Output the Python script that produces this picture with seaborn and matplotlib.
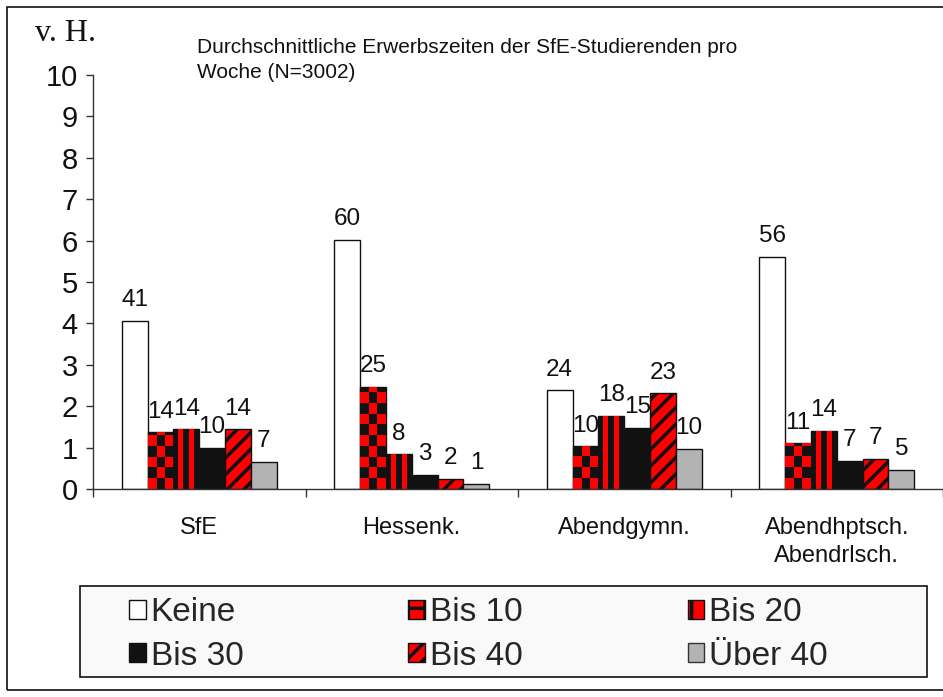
import numpy as np
import pandas as pd
import seaborn as sns
import matplotlib.pyplot as plt
from matplotlib.colors import ListedColormap
from matplotlib.patches import Patch, Rectangle

sns.set_style("ticks")
plt.rcParams.update({
    "font.family": ["Liberation Sans", "DejaVu Sans"],
    "hatch.linewidth": 2.5})

RED = "#ff0000"
BLACK = "#111111"

schulen = ["SfE", "Hessenk.", "Abendgymn.", "Abendhptsch.\nAbendrlsch."]
stunden = ["Keine", "Bis 10", "Bis 20", "Bis 30", "Bis 40", "Über 40"]

# v. H. je Schulart, eine Liste pro Erwerbszeit-Gruppe
keine = [40.6, 60.2, 23.8, 56.0]
bis10 = [13.7, 24.6, 10.3, 11.0]
bis20 = [14.4, 8.4, 17.6, 14.0]
bis30 = [10.0, 3.4, 14.7, 6.8]
bis40 = [14.4, 2.4, 23.1, 7.2]
ueber40 = [6.6, 1.2, 9.7, 4.6]

df = pd.DataFrame({
    "Schule": schulen * 6,
    "Stunden": np.repeat(stunden, 4),
    "Prozent": np.concatenate([keine, bis10, bis20, bis30, bis40, ueber40]),
})
# y-axis is scaled 0..10 (tenths of percent)
df["Anteil"] = df["Prozent"] / 10

palette = {"Keine": "white", "Bis 10": RED, "Bis 20": RED,
           "Bis 30": BLACK, "Bis 40": RED, "Über 40": "#b3b3b3"}

fig = plt.figure(figsize=(9.43, 6.97), dpi=100)
ax = fig.add_axes([93 / 943, 1 - 489 / 697, 850 / 943, (489 - 75) / 697])

sns.barplot(df, x="Schule", y="Anteil", hue="Stunden", hue_order=stunden,
            palette=palette, saturation=1, width=0.73, edgecolor=BLACK,
            linewidth=1, legend=False, ax=ax)

# labels on top of the bars
for i, cont in enumerate(ax.containers):
    vals = df.loc[df["Stunden"] == stunden[i], "Prozent"].tolist()
    ax.bar_label(cont, labels=[f"{v:.0f}" for v in vals], padding=7,
                 fontsize=17.5, color=BLACK)

# Bis 10: checkerboard
cmap_rb = ListedColormap([RED, BLACK])
for bar in ax.containers[1]:
    x0, w, h = bar.get_x(), bar.get_width(), bar.get_height()
    nrows = int(np.ceil(h / 0.26))
    arr = np.add.outer(np.arange(nrows), np.arange(3)) % 2
    im = ax.imshow(arr, cmap=cmap_rb, extent=(x0, x0 + w, 0, nrows * 0.26),
                   origin="lower", aspect="auto", interpolation="nearest",
                   zorder=bar.get_zorder() + 0.1)
    im.set_clip_path(bar)

# Bis 20: vertical stripes
for bar in ax.containers[2]:
    x0, w, h = bar.get_x(), bar.get_width(), bar.get_height()
    im = ax.imshow(np.array([[1, 0, 1, 0, 1]]), cmap=cmap_rb,
                   extent=(x0, x0 + w, 0, h), origin="lower", aspect="auto",
                   interpolation="nearest", zorder=bar.get_zorder() + 0.1)
    im.set_clip_path(bar)

# Bis 40: diagonal hatch
for bar in ax.containers[4]:
    bar.set_hatch("//")

ax.set_xlim(-0.5, 3.5)
ax.set_ylim(0, 10)
ax.set_xlabel("")
ax.set_ylabel("")
ax.set_yticks(range(11))
ax.tick_params(axis="y", length=5, width=1, pad=6, labelsize=21,
               color="#333333", labelcolor=BLACK)
ax.set_xticks(range(4))
ax.set_xticklabels(schulen)
ax.set_xticks([-0.5, 0.5, 1.5, 2.5, 3.5], minor=True)
ax.tick_params(axis="x", which="major", length=0, pad=20, labelsize=17,
               labelcolor=BLACK)
ax.tick_params(axis="x", which="minor", length=6, width=1, color="#333333")
for lab in ax.get_xticklabels():
    lab.set_linespacing(1.35)
sns.despine(ax=ax)
for s in ["left", "bottom"]:
    ax.spines[s].set_color("#333333")
    ax.spines[s].set_linewidth(1)

fig.text(35 / 943, 1 - 19 / 697, "v. H.", family="Liberation Serif",
         fontsize=23, va="top", ha="left", color=BLACK)
fig.text(197 / 943, 1 - 38 / 697,
         "Durchschnittliche Erwerbszeiten der SfE-Studierenden pro\nWoche (N=3002)",
         fontsize=15, va="top", ha="left", linespacing=1.4, color=BLACK)

# legend box and outer frame
fig.add_artist(Rectangle((80 / 943, 1 - 677 / 697), (927 - 80) / 943,
                         (677 - 586) / 697, transform=fig.transFigure,
                         facecolor="#f9f9f9", edgecolor=BLACK, lw=1.2,
                         zorder=1))
fig.add_artist(Rectangle((7 / 943, 1 - 690 / 697), 1.0, (690 - 7) / 697,
                         transform=fig.transFigure, fill=False,
                         edgecolor=BLACK, lw=1.2, zorder=1))

handles = {
    "Keine": Patch(facecolor="white", edgecolor=BLACK),
    "Bis 10": Patch(facecolor=RED, edgecolor=BLACK, hatch="+"),
    "Bis 20": Patch(facecolor=RED, edgecolor=BLACK, hatch="|"),
    "Bis 30": Patch(facecolor=BLACK, edgecolor=BLACK),
    "Bis 40": Patch(facecolor=RED, edgecolor=BLACK, hatch="//"),
    "Über 40": Patch(facecolor="#b3b3b3", edgecolor="#333333"),
}
order = ["Keine", "Bis 30", "Bis 10", "Bis 40", "Bis 20", "Über 40"]
fig.legend([handles[k] for k in order], order, loc="upper left",
           bbox_to_anchor=(129 / 943, 1 - 597 / 697), ncol=3, frameon=False,
           fontsize=24, handlelength=0.5, handleheight=0.5,
           handletextpad=0.15, columnspacing=4.95, labelspacing=0.38,
           borderpad=0, borderaxespad=0)

plt.savefig("out.png", dpi=100)
plt.close()
